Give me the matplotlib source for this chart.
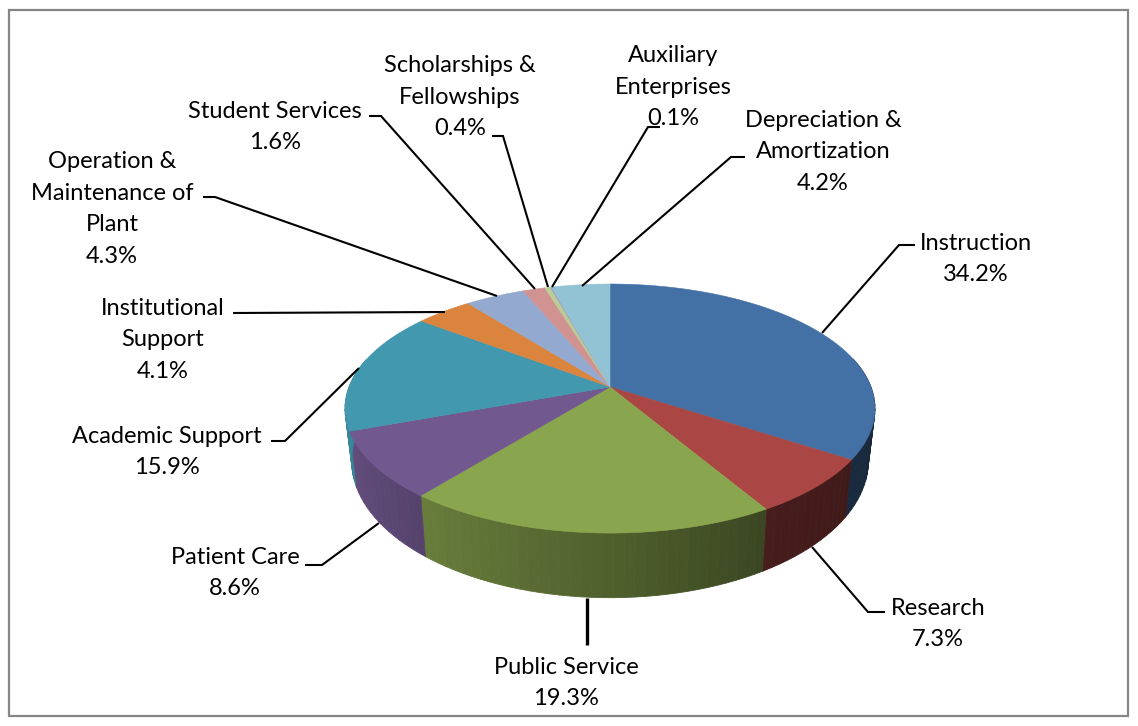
import numpy as np
import matplotlib
matplotlib.use('Agg')
from matplotlib import pyplot as plt
from matplotlib.colors import to_rgb
from matplotlib.patches import Rectangle

names = ['Instruction', 'Research', 'Public Service', 'Patient Care', 'Academic Support',
         'Institutional\nSupport', 'Operation &\nMaintenance of\nPlant', 'Student Services',
         'Scholarships &\nFellowships', 'Auxiliary\nEnterprises', 'Depreciation &\nAmortization']
values = [34.2, 7.3, 19.3, 8.6, 15.9, 4.1, 4.3, 1.6, 0.4, 0.1, 4.2]
colors = ['#4371A6', '#AA4643', '#89A54E', '#71588F', '#4198AF', '#DB843D',
          '#93A9CF', '#D19392', '#B9CD96', '#A99BBD', '#92C3D4']

# label centres and leader lines, in pixels of the picture
label_pos = [(976, 259), (938, 624), (566, 683), (235, 573), (167, 452), (163, 340),
             (112, 209), (275, 127), (460, 97), (673, 87), (823, 152)]
leaders = [[(915, 245), (899, 245), (822, 333)],
           [(885, 612), (868, 612), (812, 547)],
           [(587, 598), (587, 645)],
           [(305, 565), (322, 565), (379, 523)],
           [(271, 441), (285, 441), (359, 368)],
           [(233, 313), (445, 312)],
           [(203, 197), (215, 197), (497, 296)],
           [(369, 116), (381, 116), (535, 289)],
           [(492, 136), (503, 136), (548, 287)],
           [(660, 127), (648, 127), (552, 287)],
           [(745, 157), (731, 157), (582, 286)]]
leader_widths = [1.5, 1.5, 2.4, 1.5, 1.5, 1.5, 1.5, 1.5, 1.5, 1.5, 1.5]

# pie geometry
cx, cy = 610, 387
rx, ry = 261, 120.8
persp = 0.173
wall_scale_x, wall_scale_y, wall_drop = 0.975, 1.1, 50


def top_xy(deg):
    a = np.radians(deg)
    s = 1 / (1 + persp * np.cos(a))
    return cx + rx * np.sin(a) * s, cy - ry * np.cos(a) * s


def bottom_xy(deg):
    x, y = top_xy(deg)
    return cx + (x - cx) * wall_scale_x, cy + (y - cy) * wall_scale_y + wall_drop


def wall_shade(deg):
    # walls get darker going from the left to the right
    return np.interp(np.sin(np.radians(deg)), [-1, -0.7, 0, 0.6, 1], [0.88, 0.78, 0.58, 0.40, 0.36])


fig = plt.figure(figsize=(11.38, 7.26), dpi=100)
ax = fig.add_axes([0, 0, 1, 1])
ax.set_xlim(0, 1138)
ax.set_ylim(726, 0)
ax.axis('off')

ax.add_patch(Rectangle((9, 10), 1119, 706, fill=False, ec='#868686', lw=1.6))

edges = np.concatenate([[0], np.cumsum(values)]) / np.sum(values) * 360

# side walls first
for i, c in enumerate(colors):
    base = np.array(to_rgb(c))
    steps = np.arange(edges[i], edges[i + 1], 2.0)
    steps = np.append(steps, edges[i + 1])
    for a0, a1 in zip(steps[:-1], steps[1:]):
        if np.cos(np.radians((a0 + a1) / 2)) > 0.25:
            continue
        xt0, yt0 = top_xy(a0)
        xt1, yt1 = top_xy(a1)
        xb0, yb0 = bottom_xy(a0)
        xb1, yb1 = bottom_xy(a1)
        col = base * wall_shade((a0 + a1) / 2)
        ax.fill([xt0, xt1, xb1, xb0], [yt0, yt1, yb1, yb0], color=col, lw=0.6, zorder=2)

# top faces
for i, c in enumerate(colors):
    ang = np.linspace(edges[i], edges[i + 1], max(3, int(values[i] * 6)))
    xs, ys = top_xy(ang)
    ax.fill(np.r_[cx, xs], np.r_[cy, ys], color=c, lw=0.4, zorder=3)

for pts, w in zip(leaders, leader_widths):
    px, py = zip(*pts)
    ax.plot(px, py, color='black', lw=w, zorder=4, solid_capstyle='butt', solid_joinstyle='miter')

for name, v, (lx, ly) in zip(names, values, label_pos):
    ax.text(lx, ly, f'{name}\n{v}%', ha='center', va='center', family='Lato', fontsize=17,
            linespacing=1.62, color='black', zorder=5)

fig.savefig('out.png', dpi=100)
